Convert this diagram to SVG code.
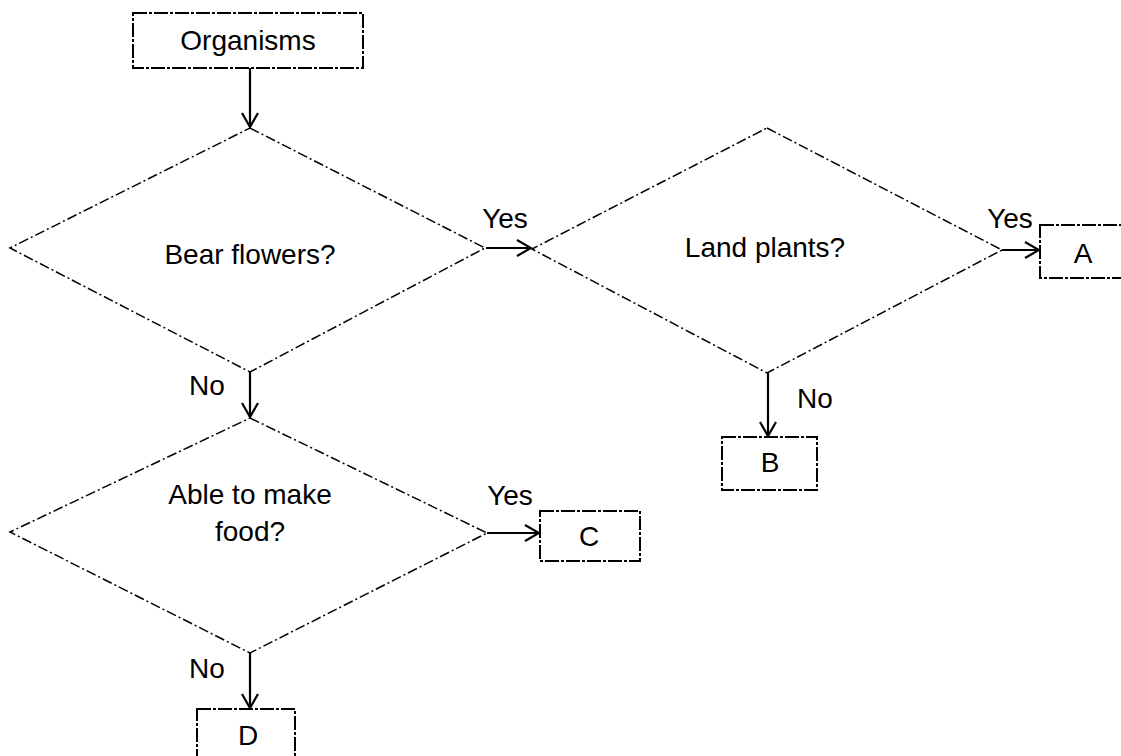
<svg xmlns="http://www.w3.org/2000/svg" width="1121" height="756" viewBox="0 0 1121 756">
<style>
  text { font-family: "Liberation Sans", Arial, sans-serif; font-size: 28px; fill: #000; text-anchor: middle; }
  .dia { fill: none; stroke: #000; stroke-width: 1.5; stroke-dasharray: 10,3,2,3; }
  .box { fill: #fff; stroke: #000; stroke-width: 2; stroke-dasharray: 14,2,3,2; }
  .con { fill: none; stroke: #000; stroke-width: 2.2; }
</style>
<defs>
  <marker id="arr" viewBox="0 0 20 20" refX="18" refY="10" markerWidth="20" markerHeight="20" markerUnits="userSpaceOnUse" orient="auto">
    <path d="M4,2 L18,10 L4,18" fill="none" stroke="#000" stroke-width="2.2"/>
  </marker>
</defs>
<rect width="1121" height="756" fill="#fff"/>

<g id="connectors">
  <line class="con" x1="250" y1="68" x2="250" y2="127" marker-end="url(#arr)"/>
  <line class="con" x1="486" y1="248" x2="531" y2="248" marker-end="url(#arr)"/>
  <line class="con" x1="1002" y1="250" x2="1039" y2="250" marker-end="url(#arr)"/>
  <line class="con" x1="768" y1="373" x2="768" y2="436" marker-end="url(#arr)"/>
  <line class="con" x1="250" y1="372" x2="250" y2="417" marker-end="url(#arr)"/>
  <line class="con" x1="487" y1="533" x2="539" y2="533" marker-end="url(#arr)"/>
  <line class="con" x1="250" y1="653" x2="250" y2="708" marker-end="url(#arr)"/>
  <text x="505" y="228">Yes</text>
  <text x="1010" y="228">Yes</text>
  <text x="815" y="408">No</text>
  <text x="207" y="395">No</text>
  <text x="510" y="505">Yes</text>
  <text x="207" y="678">No</text>
</g>

<g id="organisms">
  <rect class="box" x="133" y="13" width="230" height="55"/>
  <text x="248" y="50">Organisms</text>
</g>

<g id="bear-flowers">
  <polygon class="dia" points="250,128 485,248 250,372 10,248"/>
  <text x="250" y="264">Bear flowers?</text>
</g>

<g id="land-plants">
  <polygon class="dia" points="767,128 1002,250 767,373 532,249"/>
  <text x="765" y="257">Land plants?</text>
</g>

<g id="able-make-food">
  <polygon class="dia" points="250,418 487,533 250,653 10,532"/>
  <text x="250" y="504">Able to make</text>
  <text x="250" y="541">food?</text>
</g>

<g id="node-a">
  <rect class="box" x="1040" y="225" width="90" height="53"/>
  <text x="1083" y="263">A</text>
</g>

<g id="node-b">
  <rect class="box" x="722" y="437" width="95" height="53"/>
  <text x="770" y="472">B</text>
</g>

<g id="node-c">
  <rect class="box" x="540" y="511" width="100" height="50"/>
  <text x="589" y="546">C</text>
</g>

<g id="node-d">
  <rect class="box" x="197" y="709" width="98" height="55"/>
  <text x="248" y="745">D</text>
</g>
</svg>
